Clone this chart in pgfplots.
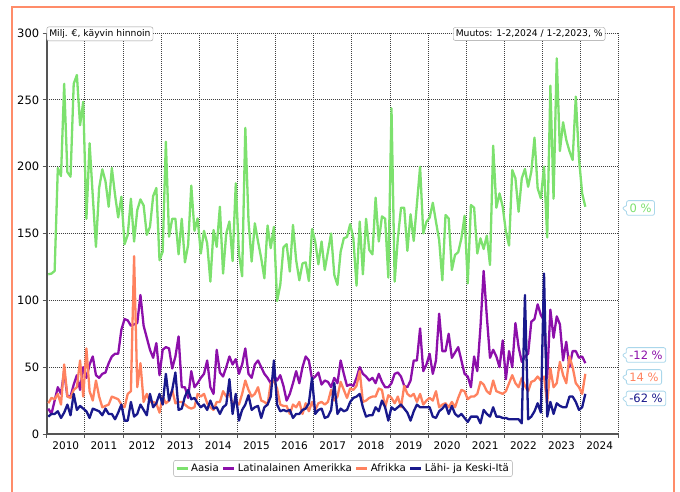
\documentclass[border=0pt]{standalone}
\usepackage{fontspec}
\setmainfont{DejaVu Sans}
\usepackage{pgfplots}
\usepackage{pgfplotstable}
\pgfplotsset{compat=1.18}
\usetikzlibrary{shapes.callouts}
\definecolor{cgreen}{RGB}{125,225,110}
\definecolor{cpurple}{RGB}{140,15,170}
\definecolor{corange}{RGB}{255,130,95}
\definecolor{cnavy}{RGB}{25,25,140}
\definecolor{cframe}{RGB}{255,140,105}
\definecolor{caxis}{RGB}{85,85,85}
\definecolor{cbox}{RGB}{170,215,235}
\pgfplotstableread{
m A L F M
0 119.5 19 23 13
1 120 15 27 15
2 122 25 26 15
3 199 35 30 17
4 193 30 22 12
5 262 47 52 16
6 196 28 28 22
7 192.5 28 27 14
8 262 37 33 30
9 268.6 44 35 18
10 231 33 55 21
11 248.6 50 28 19
12 161 42 64 17
13 217.5 52 32 12
14 178 58 25 19
15 140 44 40 18
16 184 42 28 17
17 198 45 20 14
18 189 46 21 19
19 170 53 22 15
20 199 58 28 15
21 179 60 27 11
22 162 60 26 16
23 177.5 78 22 22
24 142 86 20 10
25 149 85 30 10
26 176 81 32 24
27 144 82 133 13
28 167.5 83 35 15
29 175.5 104 53 22
30 171 81 24 18
31 149 72 30 14
32 155 63 24 30
33 178 57 24 20
34 184 68 23 23
35 130 44 16 30
36 136.4 63 28 22
37 218.7 65 23 45
38 147.6 64 25 25
39 161 49 33 33
40 161 58 23 46
41 134.4 73 24 18
42 161 35 24 19
43 128.4 35 22 28
44 141.4 27 20 33
45 185.8 47 19 26
46 152 35 20 27
47 161.3 38 30 23
48 135 42 28 20
49 152 45 30 22
50 142.6 55 23 18
51 114 35 20 25
52 152.6 30 18 19
53 140 63 24 20
54 170 46 24 15
55 120 43 32 20
56 150 50 28 22
57 159 58 30 41
58 129.4 52 23 15
59 187.6 56 24 30
60 135 45 22 10
61 118 52 30 18
62 229 64 40 22
63 160 45 33 29
64 129 42 28 18
65 157.6 52 30 20
66 144 55 35 21
67 131.5 50 25 12
68 116.5 45 24 20
69 156 42 22 22
70 139 38 38 28
71 155 44 40 55
72 99.5 40 34 22
73 111.5 44 22 17
74 139.6 36 21 18
75 142 25 21 17
76 121.5 30 15 18
77 156.4 38 22 12
78 130 47 20 15
79 115 38 24 15
80 127.6 50 15 18
81 128.4 58 23 19
82 114.5 55 17 23
83 153.4 41 24 42
84 144 43 18 15
85 127 46 23 18
86 144 37 24 19
87 122.7 40 22 12
88 136.4 39 24 13
89 150 35 33 18
90 119 42 25 38
91 111.5 38 28 15
92 136.4 55 39 19
93 146.4 45 33 17
94 147.4 36 27 18
95 157 37 34 24
96 146.4 36 33 27
97 111 42 36 28
98 159 50 47 30
99 119.5 45 24 20
100 161 43 25 13
101 137.7 40 27 14
102 134.4 42 28 14
103 176.8 38 28 20
104 144 45 34 17
105 162.8 39 33 25
106 161 35 20 20
107 117 35 29 10
108 243.6 38 27 20
109 114 45 23 18
110 146.4 46 28 20
111 169.3 43 20 22
112 169.3 36 36 19
113 137 35 30 16
114 164.4 40 28 10
115 144.4 55 30 17
116 172 55 24 22
117 200 79 30 20
118 150 47 22 20
119 158.8 52 25 20
120 161.8 60 27 20
121 173 45 25 13
122 158.8 55 32 12
123 145 90 20 17
124 115 62 22 19
125 163.8 62 23 22
126 161.3 75 20 15
127 122.7 57 24 21
128 134 61 20 15
129 136 65 27 13
130 146.4 55 33 15
131 163.3 45 32 12
132 112.7 43 26 9
133 171.3 35 28 13
134 169.3 58 28 13
135 135 47 30 13
136 146.4 80 39 8
137 138.4 122 37 18
138 148.4 88 32 15
139 126.4 57 30 13
140 215.7 63 40 20
141 169.3 58 32 13
142 180 50 31 13
143 170 70 30 12
144 151.4 41 32 12
145 141 62 38 11
146 197.5 50 44 11
147 191.3 83 38 11
148 166.3 65 35 11
149 191.3 54 42 8
150 198.3 58 36 104
151 185 60 32 11
152 196.3 84 39 13
153 221.7 86 40 17
154 183.8 97 43 23
155 176.3 89 40 16
156 200 85 43 120
157 147 42 23 13
158 260.6 93 49 24
159 176 72 35 15
160 281 88 38 23
161 211.7 82 54 21
162 233.2 55 44 20
163 220 69 38 20
164 211.7 50 58 28
165 205 62 50 28
166 252.4 62 38 24
167 206.2 57 35 18
168 180 58 30 20
169 170 53 45 30
}\data
\begin{document}
\begin{tikzpicture}
\path[use as bounding box] (0,0) rectangle (680pt,492pt);
\draw[cframe, line width=2pt] (12pt,-2pt) -- (12pt,485pt) -- (674pt,485pt) -- (674pt,-2pt);
\begin{axis}[
  at={(46.7pt,58pt)}, anchor=south west,
  width=572pt, height=401pt, scale only axis,
  xmin=-0.5, xmax=179.5, ymin=0, ymax=300,
  axis x line*=bottom, axis y line*=left,
  axis line style={caxis, line width=2pt},
  xtick={-0.5,11.5,...,179.5},
  xticklabels={2010,2011,2012,2013,2014,2015,2016,2017,2018,2019,2020,2021,2022,2023,2024},
  x tick label as interval,
  ytick={0,50,...,300},
  tick align=outside, major tick length=4pt,
  tick style={caxis, line width=0.8pt},
  grid=major,
  grid style={black!75, line width=0.7pt, dash pattern=on 1pt off 1pt},
  /pgf/number format/assume math mode=true,
  xticklabel style={font=\fontsize{10.5}{12}\selectfont},
  yticklabel style={font=\fontsize{11.5}{13}\selectfont},
  legend columns=-1,
  legend style={at={(axis description cs:0.518,-0.086)}, anchor=center,
    draw=black!35, rounded corners=2pt, font=\fontsize{10.2}{12}\selectfont,
    inner xsep=1.5pt, inner ysep=1.5pt,
    /tikz/every even column/.append style={column sep=1pt},
    /tikz/every odd column/.append style={column sep=0pt}},
  legend image code/.code={\draw[#1, line width=3pt] (0pt,0pt) -- (11pt,0pt);},
  every axis plot/.append style={no markers, line width=2.3pt, line join=round},
]
\addplot[cgreen] table[x=m,y=A]{\data};
\addlegendentry{Aasia}
\addplot[cpurple] table[x=m,y=L]{\data};
\addlegendentry{Latinalainen Amerikka}
\addplot[corange] table[x=m,y=F]{\data};
\addlegendentry{Afrikka}
\addplot[cnavy] table[x=m,y=M]{\data};
\addlegendentry{Lähi- ja Keski-Itä}
\end{axis}
\node[draw=black!40, fill=white, rounded corners=2pt, inner xsep=2.5pt, inner ysep=2.5pt, font=\fontsize{9.2}{10.5}\selectfont] at (99.9pt,458.1pt) {Milj. €, käyvin hinnoin};
\node[draw=black!40, fill=white, rounded corners=2pt, inner xsep=2.5pt, inner ysep=2.5pt, font=\fontsize{9.2}{10.5}\selectfont] at (529.2pt,458pt) {Muutos: 1-2,2024 / 1-2,2023, \%};
\tikzset{endlab/.style={rectangle callout, draw=cbox, fill=white, line width=0.8pt, rounded corners=2pt, inner xsep=3pt, inner ysep=3pt, font=\fontsize{11.5}{13}\selectfont, callout pointer width=6pt}}
\node[endlab, text=cgreen, callout absolute pointer={(622pt,284pt)}] at (640.5pt,284pt) {0 \%};
\node[endlab, text=cpurple, callout absolute pointer={(622pt,137pt)}] at (646pt,137pt) {-12 \%};
\node[endlab, text=corange, callout absolute pointer={(622pt,115pt)}] at (644pt,115pt) {14 \%};
\node[endlab, text=cnavy, callout absolute pointer={(622pt,93.5pt)}] at (646pt,93.5pt) {-62 \%};
\end{tikzpicture}
\end{document}
